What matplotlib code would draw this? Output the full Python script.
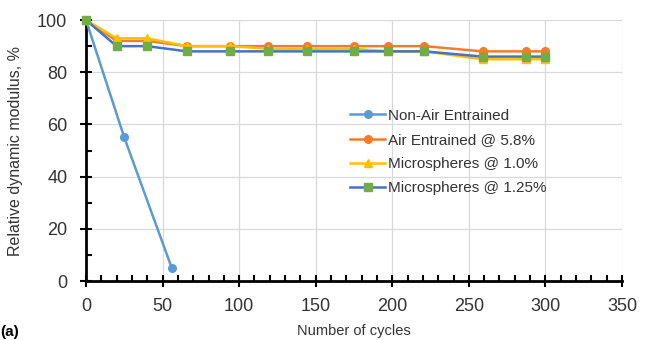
import matplotlib.pyplot as plt
from matplotlib.ticker import MultipleLocator

plt.rcParams['font.family'] = ['Liberation Sans', 'DejaVu Sans']

# data
cycles_nonair = [0, 25, 56]
modulus_nonair = [100, 55, 5]

cycles = [0, 20, 40, 66, 94, 119, 144, 175, 197, 221, 259, 287, 300]
modulus_air = [100, 92, 92, 90, 90, 90, 90, 90, 90, 90, 88, 88, 88]
modulus_ms10 = [100, 93, 93, 90, 90, 89, 89, 89, 88, 88, 85, 85, 85]
modulus_ms125 = [100, 90, 90, 88, 88, 88, 88, 88, 88, 88, 86, 86, 86]

labels = ["Non-Air Entrained", "Air Entrained @ 5.8%",
          "Microspheres @ 1.0%", "Microspheres @ 1.25%"]

fig = plt.figure(figsize=(6.53, 3.4), dpi=100)
ax = fig.add_axes([0.1317, 0.1735, 0.8208, 0.7675])

ax.plot(cycles_nonair, modulus_nonair, color='#5B9BD5', lw=1.8,
        marker='o', ms=5.5, label=labels[0], clip_on=False, zorder=3)
ax.plot(cycles, modulus_air, color='#ED7D31', lw=1.8,
        marker='o', ms=5.5, label=labels[1], clip_on=False, zorder=3)
ax.plot(cycles, modulus_ms10, color='#FFC000', lw=1.8,
        marker='^', ms=6, label=labels[2], clip_on=False, zorder=3)
ax.plot(cycles, modulus_ms125, color='#4472C4', lw=1.8,
        marker='s', ms=5.5, mfc='#70AD47', mec='#70AD47',
        label=labels[3], clip_on=False, zorder=3)

ax.set_xlim(0, 350)
ax.set_ylim(0, 100)
ax.xaxis.set_major_locator(MultipleLocator(50))
ax.xaxis.set_minor_locator(MultipleLocator(10))
ax.yaxis.set_major_locator(MultipleLocator(20))
ax.yaxis.set_minor_locator(MultipleLocator(10))

ax.grid(True, which='major', color='#D9D9D9', lw=0.9)
ax.set_axisbelow(True)
for side in ['top', 'right']:
    ax.spines[side].set_visible(False)
for side in ['left', 'bottom']:
    ax.spines[side].set_linewidth(2)
    ax.spines[side].set_color('black')

ax.tick_params(which='major', direction='inout', length=9, width=1.5,
               labelsize=13, colors='black', labelcolor='#333333')
ax.tick_params(axis='x', which='major', pad=8)
ax.tick_params(axis='y', which='major', pad=9)
ax.tick_params(which='minor', direction='in', length=4, width=1.5)

ax.set_xlabel("Number of cycles", fontsize=10.5, color='#333333', labelpad=6)
ax.set_ylabel("Relative dynamic modulus, %", fontsize=11.5, color='#333333',
              labelpad=10)

leg = ax.legend(loc='upper left', bbox_to_anchor=(0.536, 0.68),
                bbox_transform=fig.transFigure, frameon=False, fontsize=11,
                handlelength=2.3, handletextpad=0.2, borderpad=0,
                borderaxespad=0, labelspacing=0.66)
for t in leg.get_texts():
    t.set_color('#333333')

fig.text(0.0, 0.003, "(a)", fontsize=11, fontweight='bold', va='bottom')

fig.savefig("out.png", dpi=100)
